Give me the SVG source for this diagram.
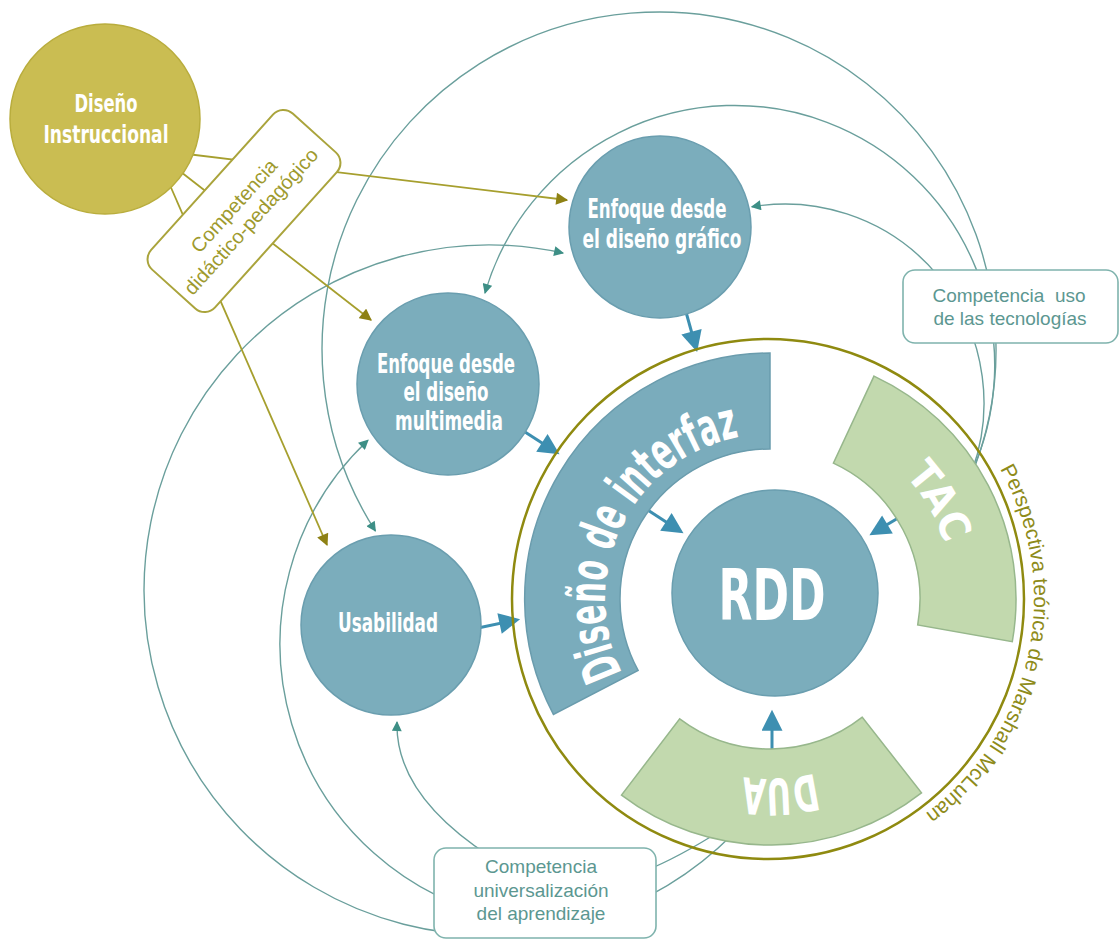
<svg xmlns="http://www.w3.org/2000/svg" width="1120" height="942" viewBox="0 0 1120 942">
<style>
.bg{fill:#ffffff}
.thin{fill:none;stroke:#6a9f9c;stroke-width:1.4}
.oli{fill:none;stroke:#a69f2e;stroke-width:1.8}
.thick{fill:none;stroke:#3d8fb1;stroke-width:3}
.tcirc{fill:#7badbc;stroke:#6a9eaf;stroke-width:1.5}
.band{fill:#7aacbc;stroke:#6a9cad;stroke-width:1.5}
.gband{fill:#c2d9ae;stroke:#97b78c;stroke-width:1.5}
.wt{fill:#ffffff;font-family:"Liberation Sans Narrow","DejaVu Sans Condensed","Liberation Sans",Arial,sans-serif;font-weight:bold;text-anchor:middle}
.cbox{fill:#ffffff;stroke:#7fb3ad;stroke-width:1.6}
.ctext{fill:#5c9791;font-family:"Liberation Sans",Arial,sans-serif;font-size:19px;text-anchor:middle}
.obox{fill:#ffffff;stroke:#aaa43c;stroke-width:2}
.otext{fill:#9e9a2e;font-family:"Liberation Sans",Arial,sans-serif;font-size:20px;text-anchor:middle}
</style>
<defs>
<marker id="aT" viewBox="0 0 10 10" refX="9" refY="5" markerWidth="11" markerHeight="10" markerUnits="userSpaceOnUse" orient="auto"><path d="M0,0 L10,5 L0,10 z" fill="#3d8f86"/></marker>
<marker id="aO" viewBox="0 0 10 10" refX="9" refY="5" markerWidth="13" markerHeight="12" markerUnits="userSpaceOnUse" orient="auto"><path d="M0,0 L10,5 L0,10 z" fill="#8e8114"/></marker>
<marker id="aB" viewBox="0 0 10 10" refX="8" refY="5" markerWidth="22" markerHeight="21" markerUnits="userSpaceOnUse" orient="auto"><path d="M0,0 L10,5 L0,10 z" fill="#3d8fb1"/></marker>
<path id="pInterfaz" d="M624.3,676.5 A165,165 0 0 1 764.2,434.1"/>
<path id="pTAC" d="M832.6,427.0 A183,183 0 0 1 950.2,630.8"/>
<path id="pDUA" d="M892.8,730.7 A180,180 0 0 1 661.7,742.7"/>
<path id="pMcL" d="M996.0,462.0 A266,266 0 0 1 814.2,861.0"/>
</defs>
<rect class="bg" x="0" y="0" width="1120" height="942"/>

<g id="connectors">
  <path class="thin" d="M972.0,471.1 A199,199 0 0 0 751.8,206.8" marker-end="url(#aT)"/>
  <path class="thin" d="M969.6,476.9 A260,260 0 1 0 485,293" marker-end="url(#aT)"/>
  <path class="thin" d="M969.2,480.7 A337,337 0 1 0 375.4,531.0" marker-end="url(#aT)"/>
  <path class="thin" d="M733.0,834.0 A345,345 0 1 1 563.1,253.0" marker-end="url(#aT)"/>
  <path class="thin" d="M511.4,919.7 A280,280 0 0 1 368.0,440.2" marker-end="url(#aT)"/>
  <path class="thin" d="M712,836 Q560,930 491,857 Q395,795 397,722" marker-end="url(#aT)"/>
  <path class="oli" d="M187,154 L567,200" marker-end="url(#aO)"/>
  <path class="oli" d="M181,172 L371,320" marker-end="url(#aO)"/>
  <path class="oli" d="M169,183 L327,545" marker-end="url(#aO)"/>
  <path class="thick" d="M686,312 L696,348" marker-end="url(#aB)"/>
  <path class="thick" d="M525,432 L556,452" marker-end="url(#aB)"/>
  <path class="thick" d="M478,628 L516,620" marker-end="url(#aB)"/>
  <path class="thick" d="M640,505 L680,531" marker-end="url(#aB)"/>
  <path class="thick" d="M915,508 L873,533" marker-end="url(#aB)"/>
  <path class="thick" d="M772,758 L772,714" marker-end="url(#aB)"/>
</g>

<g id="diseno-instruccional">
  <circle cx="105" cy="119" r="95" fill="#cabd52" stroke="#b9ad3d" stroke-width="1.5"/>
  <text class="wt" x="106" y="112" font-size="25" textLength="63" lengthAdjust="spacingAndGlyphs" fill="#fbf6e0">Diseño</text>
  <text class="wt" x="106" y="143" font-size="25" textLength="125" lengthAdjust="spacingAndGlyphs" fill="#fbf6e0">Instruccional</text>
</g>

<g id="competencia-didactico" transform="translate(244,211) rotate(-48)">
  <rect class="obox" x="-105" y="-43" width="210" height="86" rx="14"/>
  <text class="otext" x="-3" y="-4">Competencia</text>
  <text class="otext" x="-3" y="19">didáctico-pedagógico</text>
</g>

<g id="enfoque-grafico">
  <circle class="tcirc" cx="660" cy="227" r="91"/>
  <text class="wt" x="657" y="218" font-size="26" textLength="139" lengthAdjust="spacingAndGlyphs">Enfoque desde</text>
  <text class="wt" x="662" y="248" font-size="26" textLength="159" lengthAdjust="spacingAndGlyphs">el diseño gráfico</text>
</g>

<g id="enfoque-multimedia">
  <circle class="tcirc" cx="448" cy="384" r="91"/>
  <text class="wt" x="446" y="373" font-size="26" textLength="138" lengthAdjust="spacingAndGlyphs">Enfoque desde</text>
  <text class="wt" x="446" y="401" font-size="26" textLength="85" lengthAdjust="spacingAndGlyphs">el diseño</text>
  <text class="wt" x="449" y="430" font-size="26" textLength="108" lengthAdjust="spacingAndGlyphs">multimedia</text>
</g>

<g id="usabilidad">
  <circle class="tcirc" cx="391" cy="625" r="90"/>
  <text class="wt" x="388" y="632" font-size="26" textLength="100" lengthAdjust="spacingAndGlyphs">Usabilidad</text>
</g>

<g id="perspectiva-mcluhan">
  <ellipse cx="768" cy="599" rx="256" ry="260" fill="none" stroke="#8f8a10" stroke-width="2.5"/>
  <text font-family="Liberation Sans, Arial, sans-serif" font-size="21" fill="#8e8b1a"><textPath href="#pMcL" startOffset="8">Perspectiva teórica de Marshall McLuhan</textPath></text>
</g>

<g id="diseno-interfaz">
  <path class="band" d="M553.4,714.4 A246,246 0 0 1 770,353 L770,449 A150,150 0 0 0 638.1,670.4 Z"/>
  <text class="wt" font-size="52"><textPath href="#pInterfaz" startOffset="4" textLength="305" lengthAdjust="spacingAndGlyphs" text-anchor="start">Diseño de interfaz</textPath></text>
</g>

<g id="tac">
  <path class="gband" d="M874.0,376.1 A246,246 0 0 1 1012.3,641.7 L917.7,625.0 A150,150 0 0 0 833.4,463.1 Z"/>
  <text class="wt" font-size="42" font-weight="normal"><textPath href="#pTAC" startOffset="50%" textLength="80" lengthAdjust="spacingAndGlyphs">TAC</textPath></text>
</g>

<g id="dua">
  <path class="gband" d="M921.5,792.9 A246,246 0 0 1 621.5,795.1 L679.7,718.8 A150,150 0 0 0 862.3,717.2 Z"/>
  <text class="wt" font-size="50"><textPath href="#pDUA" startOffset="50%" textLength="72" lengthAdjust="spacingAndGlyphs">DUA</textPath></text>
</g>

<g id="rdd">
  <circle class="tcirc" cx="775" cy="593" r="103"/>
  <text class="wt" x="772" y="620" font-size="72" textLength="107" lengthAdjust="spacingAndGlyphs">RDD</text>
</g>

<g id="competencia-tecnologias">
  <rect class="cbox" x="903" y="270" width="215" height="73" rx="12"/>
  <text class="ctext" x="1009" y="302" xml:space="preserve">Competencia  uso</text>
  <text class="ctext" x="1010" y="325">de las tecnologías</text>
</g>

<g id="competencia-universalizacion">
  <rect class="cbox" x="434" y="848" width="222" height="90" rx="12"/>
  <text class="ctext" x="541" y="873">Competencia</text>
  <text class="ctext" x="541" y="897">universalización</text>
  <text class="ctext" x="541" y="920">del aprendizaje</text>
</g>
</svg>
